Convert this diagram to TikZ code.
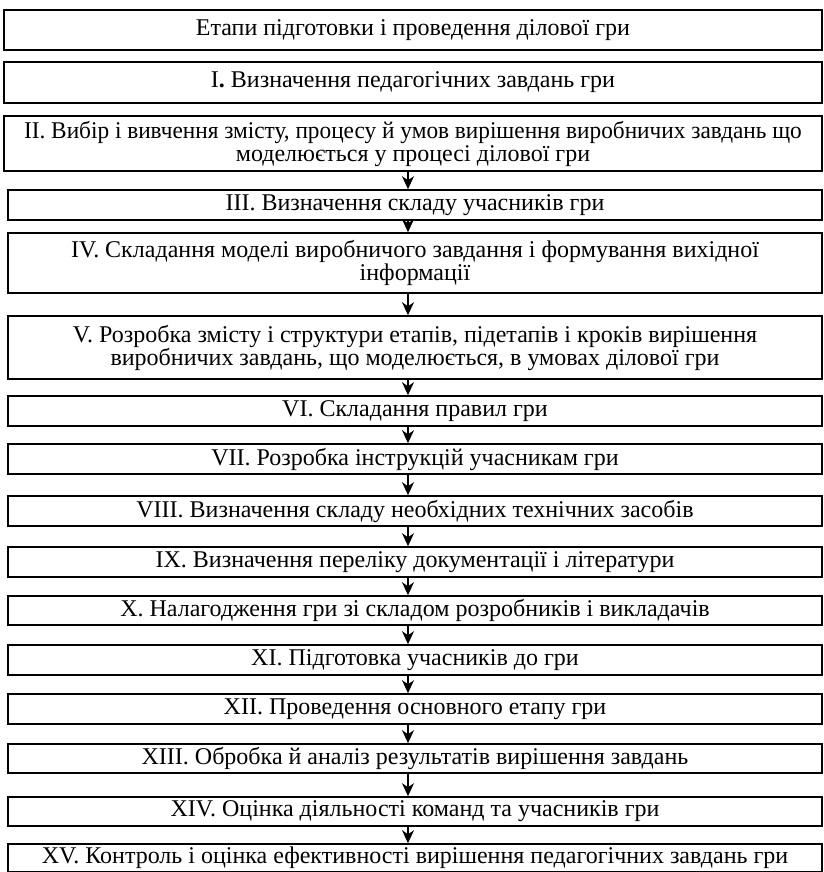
\documentclass[tikz,border=0pt]{standalone}
\usepackage{fontspec}
\setmainfont{Liberation Serif}
\usetikzlibrary{arrows.meta}

\tikzset{
	stage/.style={draw, line width=1.6pt, inner sep=0pt, align=center, font=\fontsize{24}{23}\selectfont},
	wide/.style={stage, minimum width=818pt},
	narrow/.style={stage, minimum width=814pt},
	flow/.style={-{Stealth[length=13pt, width=12pt, inset=4pt]}, line width=1.3pt}
}

\begin{document}
\begin{tikzpicture}[x=1pt, y=-1pt]
	
	\useasboundingbox (0,0) rectangle (823,872);
	
	\node [wide, minimum height=40pt] (title) at (413,30) {Етапи підготовки і проведення ділової гри};
	
	\node [wide, minimum height=41pt] (s1) at (413,82.5) {I\textbf{.} Визначення педагогічних завдань гри};
	
	\node [wide, minimum height=55pt] (s2) at (413,143.5) {\scalebox{0.97}[1]{II. Вибір і вивчення змісту, процесу й умов вирішення виробничих завдань що}\\моделюється у процесі ділової гри};
	
	\node [narrow, minimum height=30pt] (s3) at (415,205) {III. Визначення складу учасників гри};
	
	\node [narrow, minimum height=60pt] (s4) at (415,263) {IV. Складання моделі виробничого завдання і формування вихідної\\інформації};
	
	\node [narrow, minimum height=63pt] (s5) at (415,347.5) {V. Розробка змісту і структури етапів, підетапів і кроків вирішення\\виробничих завдань, що моделюється, в умовах ділової гри};
	
	\node [narrow, minimum height=30pt] (s6) at (415,411) {VI. Складання правил гри};
	
	\node [narrow, minimum height=30pt] (s7) at (415,459) {VII. Розробка інструкцій учасникам гри};
	
	\node [narrow, minimum height=30pt] (s8) at (415,511) {VIII. Визначення складу необхідних технічних засобів};
	
	\node [narrow, minimum height=30pt] (s9) at (415,562) {IX. Визначення переліку документації і літератури};
	
	\node [narrow, minimum height=29pt] (s10) at (415,610.5) {X. Налагодження гри зі складом розробників і викладачів};
	
	\node [narrow, minimum height=30pt] (s11) at (415,660) {XI. Підготовка учасників до гри};
	
	\node [narrow, minimum height=30pt] (s12) at (415,709) {XII. Проведення основного етапу гри};
	
	\node [narrow, minimum height=29pt] (s13) at (415,758.5) {XIII. Обробка й аналіз результатів вирішення завдань};
	
	\node [narrow, minimum height=29pt] (s14) at (415,811.5) {XIV. Оцінка діяльності команд та учасників гри};
	
	\node [narrow, minimum height=28pt] (s15) at (415,858) {XV. Контроль і оцінка ефективності вирішення педагогічних завдань гри};
	
	
	\coordinate (axis) at (408,0);
	
	\foreach \a/\b in {s2/s3, s3/s4, s4/s5, s5/s6, s6/s7, s7/s8, s8/s9, s9/s10, s10/s11, s11/s12, s12/s13, s13/s14, s14/s15}
		\draw [flow] (\a.south -| axis) -- (\b.north -| axis);
	
\end{tikzpicture}
\end{document}
